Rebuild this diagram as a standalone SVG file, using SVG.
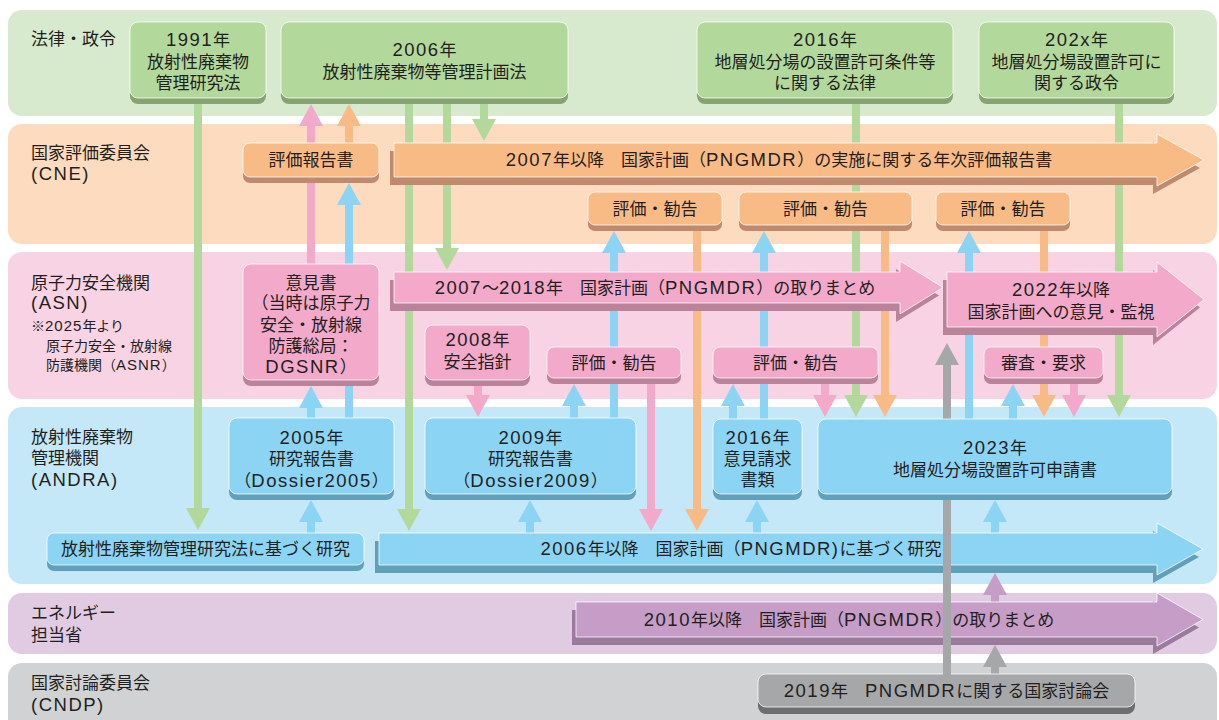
<svg xmlns="http://www.w3.org/2000/svg" width="1219" height="720" viewBox="0 0 1219 720">
<defs>
<style>
text{font-family:"Noto Sans CJK JP","Noto Sans",sans-serif;fill:#231f20;font-size:17px}
.t{text-anchor:middle}
.note{font-size:14px}
.l{font-family:"Liberation Sans","Noto Sans CJK JP",sans-serif;font-size:18.5px;letter-spacing:1.5px}
.ln{font-family:"Liberation Sans","Noto Sans CJK JP",sans-serif;font-size:15px;letter-spacing:1px}
.face{stroke:#ffffff;stroke-opacity:.75;stroke-width:1}
.gf{fill:#b3d89b}.gs{fill:#87a371}
.of{fill:#f9bb86}.os{fill:#bf8a6d}
.pf{fill:#f2a9ca}.ps{fill:#bb839a}
.bf{fill:#8cd4f4}.bs{fill:#61a0bb}
.vf{fill:#c59dc7}.vs{fill:#9a7a9d}
.yf{fill:#a6a7a9}.ys{fill:#6d6e70}
.c{stroke-width:8;fill:none}
.cg{stroke:#b3d89b}.cp{stroke:#f2a9ca}.co{stroke:#f9bb86}.cb{stroke:#8cd4f4}.cv{stroke:#c59dc7}.cy{stroke:#a6a7a9}
</style>
<marker id="hg" markerUnits="userSpaceOnUse" markerWidth="22" markerHeight="24" refX="0" refY="12" orient="auto" overflow="visible"><path d="M0,0 L22,12 L0,24 Z" fill="#b3d89b"/></marker>
<marker id="hp" markerUnits="userSpaceOnUse" markerWidth="22" markerHeight="24" refX="0" refY="12" orient="auto" overflow="visible"><path d="M0,0 L22,12 L0,24 Z" fill="#f2a9ca"/></marker>
<marker id="ho" markerUnits="userSpaceOnUse" markerWidth="22" markerHeight="24" refX="0" refY="12" orient="auto" overflow="visible"><path d="M0,0 L22,12 L0,24 Z" fill="#f9bb86"/></marker>
<marker id="hb" markerUnits="userSpaceOnUse" markerWidth="22" markerHeight="24" refX="0" refY="12" orient="auto" overflow="visible"><path d="M0,0 L22,12 L0,24 Z" fill="#8cd4f4"/></marker>
<marker id="hv" markerUnits="userSpaceOnUse" markerWidth="22" markerHeight="24" refX="0" refY="12" orient="auto" overflow="visible"><path d="M0,0 L22,12 L0,24 Z" fill="#c59dc7"/></marker>
<marker id="hy" markerUnits="userSpaceOnUse" markerWidth="22" markerHeight="24" refX="0" refY="12" orient="auto" overflow="visible"><path d="M0,0 L22,12 L0,24 Z" fill="#a6a7a9"/></marker>
</defs>
<rect width="1219" height="720" fill="#ffffff"/>

<g id="lanes">
<rect x="8" y="10" width="1209" height="106" rx="14" fill="#d8eacd"/>
<rect x="8" y="124" width="1209" height="120" rx="14" fill="#fddbbe"/>
<rect x="8" y="252" width="1209" height="147" rx="14" fill="#f8d3e3"/>
<rect x="8" y="407" width="1209" height="177" rx="14" fill="#c5e8f8"/>
<rect x="8" y="593" width="1209" height="61" rx="14" fill="#e0cbe2"/>
<rect x="8" y="663" width="1209" height="70" rx="14" fill="#d1d2d4"/>
<text x="31" y="45">法律・政令</text>
<text x="31" y="159">国家評価委員会</text>
<text x="31" y="180"><tspan class="l">(CNE)</tspan></text>
<text x="31" y="289">原子力安全機関</text>
<text x="31" y="309"><tspan class="l">(ASN)</tspan></text>
<text class="note" x="31" y="331">※<tspan class="ln">2025</tspan>年より</text>
<text class="note" x="46" y="351">原子力安全・放射線</text>
<text class="note" x="46" y="370">防護機関（<tspan class="ln">ASNR</tspan>）</text>
<text x="31" y="443">放射性廃棄物</text>
<text x="31" y="464">管理機関</text>
<text x="31" y="486"><tspan class="l">(ANDRA)</tspan></text>
<text x="31" y="619">エネルギー</text>
<text x="31" y="641">担当省</text>
<text x="31" y="689">国家討論委員会</text>
<text x="31" y="711"><tspan class="l">(CNDP)</tspan></text>
</g>

<g id="connectors">
<line class="c cg" x1="198" y1="95" x2="198" y2="508" marker-end="url(#hg)"/>
<line class="c cg" x1="409" y1="95" x2="409" y2="509" marker-end="url(#hg)"/>
<line class="c cg" x1="447" y1="95" x2="447" y2="248" marker-end="url(#hg)"/>
<line class="c cg" x1="484" y1="95" x2="484" y2="119" marker-end="url(#hg)"/>
<line class="c cg" x1="856" y1="95" x2="856" y2="395" marker-end="url(#hg)"/>
<line class="c cg" x1="1119" y1="95" x2="1119" y2="395" marker-end="url(#hg)"/>
<line class="c cp" x1="311" y1="270" x2="311" y2="126" marker-end="url(#hp)"/>
<line class="c cp" x1="478" y1="375" x2="478" y2="395" marker-end="url(#hp)"/>
<line class="c cp" x1="651" y1="375" x2="651" y2="509" marker-end="url(#hp)"/>
<line class="c cp" x1="825" y1="375" x2="825" y2="395" marker-end="url(#hp)"/>
<line class="c cp" x1="1074" y1="375" x2="1074" y2="395" marker-end="url(#hp)"/>
<line class="c co" x1="349" y1="150" x2="349" y2="126" marker-end="url(#ho)"/>
<line class="c co" x1="697" y1="220" x2="697" y2="509" marker-end="url(#ho)"/>
<line class="c co" x1="885" y1="220" x2="885" y2="395" marker-end="url(#ho)"/>
<line class="c co" x1="1044" y1="220" x2="1044" y2="395" marker-end="url(#ho)"/>
<line class="c cb" x1="311" y1="538" x2="311" y2="522" marker-end="url(#hb)"/>
<line class="c cb" x1="311" y1="424" x2="311" y2="408" marker-end="url(#hb)"/>
<line class="c cb" x1="349" y1="424" x2="349" y2="205" marker-end="url(#hb)"/>
<line class="c cb" x1="530" y1="538" x2="530" y2="522" marker-end="url(#hb)"/>
<line class="c cb" x1="574" y1="424" x2="574" y2="406" marker-end="url(#hb)"/>
<line class="c cb" x1="614" y1="424" x2="614" y2="253" marker-end="url(#hb)"/>
<line class="c cb" x1="733" y1="424" x2="733" y2="406" marker-end="url(#hb)"/>
<line class="c cb" x1="757" y1="538" x2="757" y2="522" marker-end="url(#hb)"/>
<line class="c cb" x1="764" y1="424" x2="764" y2="253" marker-end="url(#hb)"/>
<line class="c cb" x1="969" y1="424" x2="969" y2="253" marker-end="url(#hb)"/>
<line class="c cb" x1="995" y1="538" x2="995" y2="522" marker-end="url(#hb)"/>
<line class="c cb" x1="1013" y1="424" x2="1013" y2="406" marker-end="url(#hb)"/>
<line class="c cv" x1="995" y1="606" x2="995" y2="595" marker-end="url(#hv)"/>
<line class="c cy" x1="995" y1="678" x2="995" y2="667" marker-end="url(#hy)"/>
</g>

<g id="n-1991">
<rect class="gs" x="130" y="28" width="136" height="76" rx="8"/>
<rect class="gf face" x="130" y="22" width="136" height="76" rx="8"/>
<text class="t" x="198" y="46"><tspan class="l">1991</tspan>年</text>
<text class="t" x="198" y="68">放射性廃棄物</text>
<text class="t" x="198" y="89">管理研究法</text>
</g>
<g id="n-2006law">
<rect class="gs" x="281" y="28" width="287" height="76" rx="8"/>
<rect class="gf face" x="281" y="22" width="287" height="76" rx="8"/>
<text class="t" x="424.5" y="56"><tspan class="l">2006</tspan>年</text>
<text class="t" x="424.5" y="78">放射性廃棄物等管理計画法</text>
</g>
<g id="n-2016law">
<rect class="gs" x="697" y="28" width="256" height="76" rx="8"/>
<rect class="gf face" x="697" y="22" width="256" height="76" rx="8"/>
<text class="t" x="825" y="46"><tspan class="l">2016</tspan>年</text>
<text class="t" x="825" y="68">地層処分場の設置許可条件等</text>
<text class="t" x="825" y="89">に関する法律</text>
</g>
<g id="n-202x">
<rect class="gs" x="979" y="28" width="195" height="76" rx="8"/>
<rect class="gf face" x="979" y="22" width="195" height="76" rx="8"/>
<text class="t" x="1076.5" y="46"><tspan class="l">202x</tspan>年</text>
<text class="t" x="1076.5" y="68">地層処分場設置許可に</text>
<text class="t" x="1076.5" y="89">関する政令</text>
</g>

<g id="n-cne-report">
<rect class="os" x="243" y="149" width="136" height="34" rx="7"/>
<rect class="of face" x="243" y="143" width="136" height="34" rx="7"/>
<text class="t" x="311" y="166">評価報告書</text>
</g>
<g id="n-cne-annual">
<polygon class="os" transform="translate(-4,8)" points="394,143 1157,143 1157,134 1204,160 1157,186 1157,177 394,177"/>
<polygon class="of face" points="394,143 1157,143 1157,134 1204,160 1157,186 1157,177 394,177"/>
<text class="t" x="779" y="166"><tspan class="l">2007</tspan>年以降　国家計画（<tspan class="l">PNGMDR</tspan>）の実施に関する年次評価報告書</text>
</g>
<g id="n-cne-eval1">
<rect class="os" x="588" y="198" width="134" height="33" rx="7"/>
<rect class="of face" x="588" y="192" width="134" height="33" rx="7"/>
<text class="t" x="655" y="214.5">評価・勧告</text>
</g>
<g id="n-cne-eval2">
<rect class="os" x="739" y="198" width="173" height="33" rx="7"/>
<rect class="of face" x="739" y="192" width="173" height="33" rx="7"/>
<text class="t" x="825.5" y="214.5">評価・勧告</text>
</g>
<g id="n-cne-eval3">
<rect class="os" x="936" y="198" width="134" height="33" rx="7"/>
<rect class="of face" x="936" y="192" width="134" height="33" rx="7"/>
<text class="t" x="1003" y="214.5">評価・勧告</text>
</g>

<g id="n-asn-opinion">
<rect class="ps" x="243" y="270" width="136" height="116" rx="8"/>
<rect class="pf face" x="243" y="264" width="136" height="116" rx="8"/>
<text class="t" x="311" y="289">意見書</text>
<text class="t" x="311" y="309">（当時は原子力</text>
<text class="t" x="311" y="331">安全・放射線</text>
<text class="t" x="311" y="352">防護総局：</text>
<text class="t" x="311" y="373"><tspan class="l">DGSNR</tspan>）</text>
</g>
<g id="n-asn-plan">
<polygon class="ps" transform="translate(-4,8)" points="394,272 900,272 900,261 943,287.5 900,314 900,303 394,303"/>
<polygon class="pf face" points="394,272 900,272 900,261 943,287.5 900,314 900,303 394,303"/>
<text class="t" x="655" y="293.5"><tspan class="l">2007</tspan>～<tspan class="l">2018</tspan>年　国家計画（<tspan class="l">PNGMDR</tspan>）の取りまとめ</text>
</g>
<g id="n-asn-2022">
<polygon class="ps" transform="translate(-4,8)" points="947,272 1157,272 1157,262 1204,299.5 1157,337 1157,327 947,327"/>
<polygon class="pf face" points="947,272 1157,272 1157,262 1204,299.5 1157,337 1157,327 947,327"/>
<text class="t" x="1061" y="296"><tspan class="l">2022</tspan>年以降</text>
<text class="t" x="1061" y="318">国家計画への意見・監視</text>
</g>
<g id="n-asn-2008">
<rect class="ps" x="425" y="331" width="105" height="55" rx="8"/>
<rect class="pf face" x="425" y="325" width="105" height="55" rx="8"/>
<text class="t" x="477.5" y="346"><tspan class="l">2008</tspan>年</text>
<text class="t" x="477.5" y="368">安全指針</text>
</g>
<g id="n-asn-eval1">
<rect class="ps" x="547" y="353" width="134" height="31" rx="7"/>
<rect class="pf face" x="547" y="347" width="134" height="31" rx="7"/>
<text class="t" x="614" y="368.5">評価・勧告</text>
</g>
<g id="n-asn-eval2">
<rect class="ps" x="713" y="353" width="165" height="31" rx="7"/>
<rect class="pf face" x="713" y="347" width="165" height="31" rx="7"/>
<text class="t" x="795.5" y="368.5">評価・勧告</text>
</g>
<g id="n-asn-review">
<rect class="ps" x="984" y="353" width="119" height="31" rx="7"/>
<rect class="pf face" x="984" y="347" width="119" height="31" rx="7"/>
<text class="t" x="1043.5" y="368.5">審査・要求</text>
</g>

<g id="n-andra-2005">
<rect class="bs" x="229" y="424" width="165" height="76" rx="8"/>
<rect class="bf face" x="229" y="418" width="165" height="76" rx="8"/>
<text class="t" x="311.5" y="444"><tspan class="l">2005</tspan>年</text>
<text class="t" x="311.5" y="465">研究報告書</text>
<text class="t" x="311.5" y="487">（<tspan class="l">Dossier2005</tspan>）</text>
</g>
<g id="n-andra-2009">
<rect class="bs" x="425" y="424" width="211" height="76" rx="8"/>
<rect class="bf face" x="425" y="418" width="211" height="76" rx="8"/>
<text class="t" x="530.5" y="444"><tspan class="l">2009</tspan>年</text>
<text class="t" x="530.5" y="465">研究報告書</text>
<text class="t" x="530.5" y="487">（<tspan class="l">Dossier2009</tspan>）</text>
</g>
<g id="n-andra-2016">
<rect class="bs" x="713" y="425" width="89" height="75" rx="8"/>
<rect class="bf face" x="713" y="419" width="89" height="75" rx="8"/>
<text class="t" x="757.5" y="444"><tspan class="l">2016</tspan>年</text>
<text class="t" x="757.5" y="465">意見請求</text>
<text class="t" x="757.5" y="486">書類</text>
</g>
<g id="n-andra-research">
<rect class="bs" x="47" y="539" width="317" height="32" rx="7"/>
<rect class="bf face" x="47" y="533" width="317" height="32" rx="7"/>
<text class="t" x="205.5" y="555">放射性廃棄物管理研究法に基づく研究</text>
</g>
<g id="n-andra-plan">
<polygon class="bs" transform="translate(-4,8)" points="379,533 1157,533 1157,523 1203,549 1157,575 1157,565 379,565"/>
<polygon class="bf face" points="379,533 1157,533 1157,523 1203,549 1157,575 1157,565 379,565"/>
<text class="t" x="741" y="555"><tspan class="l">2006</tspan>年以降　国家計画（<tspan class="l">PNGMDR)</tspan>に基づく研究</text>
</g>

<g id="n-energy-plan">
<polygon class="vs" transform="translate(-4,8)" points="576,602 1157,602 1157,593 1203,619.5 1157,646 1157,637 576,637"/>
<polygon class="vf face" points="576,602 1157,602 1157,593 1203,619.5 1157,646 1157,637 576,637"/>
<text class="t" x="849" y="626"><tspan class="l">2010</tspan>年以降　国家計画（<tspan class="l">PNGMDR</tspan>）の取りまとめ</text>
</g>
<g id="n-cndp-2019">
<rect class="ys" x="758" y="681" width="377" height="33" rx="8"/>
<rect class="yf face" x="758" y="674" width="377" height="33" rx="8"/>
<text class="t" x="946.5" y="697"><tspan class="l">2019</tspan>年　<tspan class="l">PNGMDR</tspan>に関する国家討論会</text>
</g>

<g id="connectors-front">
<line class="c cy" x1="947" y1="678" x2="947" y2="365" marker-end="url(#hy)"/>
</g>

<g id="n-andra-2023">
<rect class="bs" x="818" y="425" width="354" height="75" rx="8"/>
<rect class="bf face" x="818" y="419" width="354" height="75" rx="8"/>
<text class="t" x="995" y="454"><tspan class="l">2023</tspan>年</text>
<text class="t" x="995" y="476">地層処分場設置許可申請書</text>
</g>
</svg>
